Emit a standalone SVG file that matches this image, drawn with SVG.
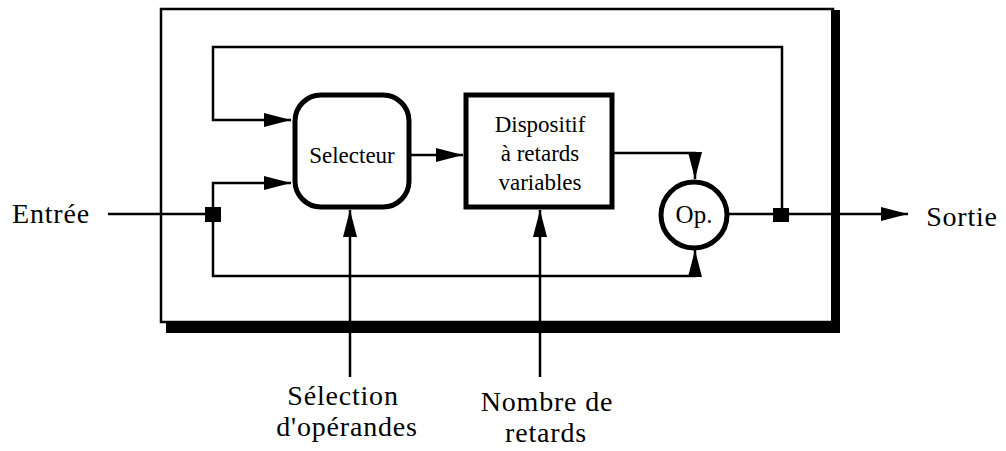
<svg xmlns="http://www.w3.org/2000/svg" width="1006" height="451" viewBox="0 0 1006 451">
<style>
.ln{fill:none;stroke:#000;stroke-width:2.5}
.box{fill:#fff;stroke:#000;stroke-width:5}
.t{font-family:'Liberation Serif','Times New Roman','DejaVu Serif',serif;fill:#000;text-anchor:middle}
.s{font-size:23px}
.b{font-size:28px;letter-spacing:0.8px}
</style>
<defs>
<marker id="ah" markerUnits="userSpaceOnUse" markerWidth="28" markerHeight="18" refX="27" refY="8" orient="auto">
<path d="M0,1 L27,8 L0,15 z" fill="#000"/>
</marker>
</defs>
<rect width="1006" height="451" fill="#fff"/>
<g id="frame">
<rect x="166" y="322" width="674" height="11" fill="#000"/>
<rect x="831" y="10" width="9" height="323" fill="#000"/>
<rect x="161" y="9" width="672" height="313" fill="none" stroke="#000" stroke-width="2.5"/>
</g>
<g id="connectors">
<path class="ln" d="M108,214 H206"/>
<path class="ln" d="M213,214 V183 H291" marker-end="url(#ah)"/>
<path class="ln" d="M782,214 V47 H213 V120 H291" marker-end="url(#ah)"/>
<path class="ln" d="M410,155 H463" marker-end="url(#ah)"/>
<path class="ln" d="M613,153 H695 V179" marker-end="url(#ah)"/>
<path class="ln" d="M213,214 V276 H695 V250" marker-end="url(#ah)"/>
<path class="ln" d="M729,214 H908" marker-end="url(#ah)"/>
<path class="ln" d="M350,377 V210" marker-end="url(#ah)"/>
<path class="ln" d="M540,377 V210" marker-end="url(#ah)"/>
</g>
<g id="junction-in"><rect x="205" y="207" width="16" height="15" fill="#000"/></g>
<g id="junction-out"><rect x="773" y="208" width="16" height="14" fill="#000"/></g>
<g id="selecteur">
<rect class="box" x="295" y="95" width="114" height="112" rx="26"/>
<text class="t s" x="352" y="163">Selecteur</text>
</g>
<g id="dispositif">
<rect class="box" x="466" y="95" width="146" height="112"/>
<text class="t s" x="540" y="132">Dispositif</text>
<text class="t s" x="540" y="161">à retards</text>
<text class="t s" x="540" y="190">variables</text>
</g>
<g id="op">
<circle cx="694" cy="215" r="33" fill="#fff" stroke="#000" stroke-width="5"/>
<text class="t" x="694" y="223" font-size="25">Op.</text>
</g>
<g id="labels">
<text class="t b" x="51" y="223">Entrée</text>
<text class="t b" x="962" y="226">Sortie</text>
<text class="t b" x="343" y="405">Sélection</text>
<text class="t b" x="347" y="436">d'opérandes</text>
<text class="t b" x="547" y="411">Nombre de</text>
<text class="t b" x="546" y="442">retards</text>
</g>
</svg>
